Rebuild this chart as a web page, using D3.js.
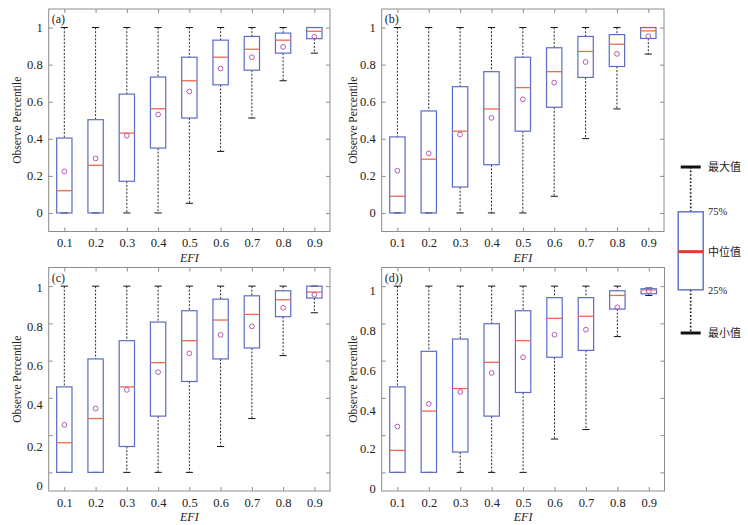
<!DOCTYPE html>
<html>
<head>
<meta charset="utf-8">
<script src="https://cdn.jsdelivr.net/npm/d3@7"></script>
<style>
  body { margin: 0; background: #fff; }
  svg text { font-family: "Liberation Serif", "Times New Roman", Times, "DejaVu Serif", serif; }
</style>
</head>
<body>
<svg id="chart"></svg>
<script>
// EFI bins on the x axis
const efi = ['0.1', '0.2', '0.3', '0.4', '0.5', '0.6', '0.7', '0.8', '0.9'];
const yTicks = [0, 0.2, 0.4, 0.6, 0.8, 1];
const panelLabels = ['(a)', '(b)', '(c)', '(d))'];

// each row: [min, q1, median, q3, max, mean]
const boxA = [
  [0, 0, 0.12, 0.404, 1, 0.224],
  [0, 0, 0.257, 0.503, 1, 0.294],
  [0, 0.171, 0.431, 0.641, 1, 0.417],
  [0, 0.35, 0.562, 0.733, 1, 0.531],
  [0.052, 0.512, 0.713, 0.84, 1, 0.655],
  [0.332, 0.691, 0.84, 0.932, 1, 0.779],
  [0.512, 0.77, 0.883, 0.952, 1, 0.84],
  [0.713, 0.862, 0.932, 0.97, 1, 0.896],
  [0.862, 0.94, 0.98, 1, 1, 0.95]
];
const boxB = [
  [0, 0, 0.09, 0.41, 1, 0.228],
  [0, 0, 0.29, 0.55, 1, 0.321],
  [0, 0.14, 0.441, 0.681, 1, 0.423],
  [0, 0.26, 0.561, 0.762, 1, 0.513],
  [0, 0.441, 0.676, 0.84, 1, 0.613],
  [0.09, 0.57, 0.762, 0.891, 1, 0.703],
  [0.401, 0.731, 0.871, 0.952, 1, 0.814],
  [0.561, 0.79, 0.91, 0.962, 1, 0.858],
  [0.857, 0.941, 0.982, 1, 1, 0.953]
];
const boxC = [
  [0, 0, 0.159, 0.459, 1, 0.255],
  [0, 0, 0.289, 0.609, 1, 0.343],
  [0, 0.139, 0.459, 0.707, 1, 0.443],
  [0, 0.302, 0.589, 0.807, 1, 0.538],
  [0, 0.488, 0.707, 0.868, 1, 0.639],
  [0.139, 0.609, 0.818, 0.93, 1, 0.738],
  [0.289, 0.668, 0.848, 0.948, 1, 0.784],
  [0.627, 0.836, 0.927, 0.975, 1, 0.884],
  [0.857, 0.936, 0.968, 1, 1, 0.954]
];
const boxD = [
  [0, 0, 0.118, 0.459, 1, 0.246],
  [0, 0, 0.329, 0.65, 1, 0.368],
  [0, 0.109, 0.45, 0.716, 1, 0.432],
  [0, 0.302, 0.591, 0.798, 1, 0.534],
  [0, 0.429, 0.707, 0.868, 1, 0.618],
  [0.179, 0.618, 0.827, 0.938, 1, 0.739],
  [0.23, 0.655, 0.838, 0.938, 1, 0.766],
  [0.729, 0.877, 0.95, 0.975, 1, 0.886],
  [0.95, 0.959, 0.98, 0.986, 0.99, 0.973]
];

// legend: schematic box, labels from top to bottom
const legendLabels = ['最大值', '75%', '中位值', '25%', '最小值'];
const legendLevels = [1, 0.73, 0.49, 0.26, 0];

const width = 748, height = 525;
const svg = d3.select('#chart').attr('width', width).attr('height', height);

const serif = '"Liberation Serif", "Times New Roman", Times, "DejaVu Serif", serif';
const boxColor = '#5b6cc6', medColor = '#ee6a4e', meanColor = '#b45bb4', frameColor = '#8c8c8c';

// label pixel shifts seen in the lower panels (tick labels sit a little low)
const panels = [
  { stats: boxA, x0: 48.7, x1: 330, y0: 9, y1: 231.5, titleX: 21, shift: [0, 0, 0, 0, 0, 0] },
  { stats: boxB, x0: 381.7, x1: 664, y0: 9, y1: 231.5, titleX: 356.5, shift: [0, 0, 0, 0, 0, 0] },
  { stats: boxC, x0: 48.7, x1: 330, y0: 267.5, y1: 491, titleX: 21, shift: [12.7, 11, 6.7, 4.7, 3, 1] },
  { stats: boxD, x0: 381.7, x1: 664.5, y0: 267.5, y1: 491, titleX: 356.5, shift: [16, 13.3, 12.4, 9.7, 7, 4.3] }
];

panels.forEach((p, pi) => {
  const x = d3.scalePoint().domain(efi).range([p.x0, p.x1]).padding(0.5);
  const y = d3.scaleLinear().domain([-0.1, 1.1]).range([p.y1, p.y0]);
  const step = x.step();
  const boxW = step * 0.49, capW = step * 0.23;

  const g = svg.append('g');

  // axes with inward ticks on all four sides
  const bottom = g.append('g').attr('transform', `translate(0,${p.y1})`)
    .call(d3.axisBottom(x).tickSize(-4).tickPadding(7));
  const top = g.append('g').attr('transform', `translate(0,${p.y0})`)
    .call(d3.axisTop(x).tickSize(-4).tickFormat(''));
  const left = g.append('g').attr('transform', `translate(${p.x0},0)`)
    .call(d3.axisLeft(y).tickValues(yTicks).tickSize(-4).tickPadding(6).tickFormat(d => String(d)));
  const right = g.append('g').attr('transform', `translate(${p.x1},0)`)
    .call(d3.axisRight(y).tickValues(yTicks).tickSize(-4).tickFormat(''));
  [bottom, top, left, right].forEach(a => {
    a.attr('font-family', serif).attr('font-size', 12.5);
    a.select('.domain').remove();
    a.selectAll('line').attr('stroke', frameColor);
    a.selectAll('text').attr('fill', '#222');
  });
  left.selectAll('text').attr('y', (d, i) => p.shift[i]);

  g.append('rect')
    .attr('x', p.x0).attr('y', p.y0)
    .attr('width', p.x1 - p.x0).attr('height', p.y1 - p.y0)
    .attr('fill', 'none').attr('stroke', frameColor).attr('stroke-width', 1);

  const boxes = g.selectAll('.box').data(p.stats).enter().append('g').attr('class', 'box')
    .attr('transform', (d, i) => `translate(${x(efi[i])},0)`);

  // whiskers
  boxes.append('line').attr('y1', d => y(d[4])).attr('y2', d => y(d[3]))
    .attr('stroke', '#111').attr('stroke-dasharray', '2,1.6').attr('stroke-width', 0.9);
  boxes.append('line').attr('y1', d => y(d[1])).attr('y2', d => y(d[0]))
    .attr('stroke', '#111').attr('stroke-dasharray', '2,1.6').attr('stroke-width', 0.9);
  boxes.append('line').attr('x1', -capW / 2).attr('x2', capW / 2)
    .attr('y1', d => y(d[4])).attr('y2', d => y(d[4])).attr('stroke', '#111');
  boxes.append('line').attr('x1', -capW / 2).attr('x2', capW / 2)
    .attr('y1', d => y(d[0])).attr('y2', d => y(d[0])).attr('stroke', '#111');

  boxes.append('rect')
    .attr('x', -boxW / 2).attr('width', boxW)
    .attr('y', d => y(d[3])).attr('height', d => y(d[1]) - y(d[3]))
    .attr('fill', 'none').attr('stroke', boxColor).attr('stroke-width', 1.2);
  boxes.append('line').attr('x1', -boxW / 2).attr('x2', boxW / 2)
    .attr('y1', d => y(d[2])).attr('y2', d => y(d[2]))
    .attr('stroke', medColor).attr('stroke-width', 1.3);
  boxes.append('circle').attr('cy', d => y(d[5])).attr('r', 2.4)
    .attr('fill', 'none').attr('stroke', meanColor).attr('stroke-width', 1);

  g.append('text')
    .attr('x', p.x0 + 3).attr('y', p.y0 + 14)
    .attr('fill', '#222').attr('font-family', serif).attr('font-size', 12)
    .text(panelLabels[pi]);

  g.append('text')
    .attr('x', (p.x0 + p.x1) / 2).attr('y', p.y1 + 30)
    .attr('text-anchor', 'middle').attr('fill', '#222')
    .attr('font-family', serif).attr('font-size', 12).attr('font-style', 'italic')
    .text('EFI');

  g.append('text')
    .attr('transform', `translate(${p.titleX},${(p.y0 + p.y1) / 2}) rotate(-90)`)
    .attr('text-anchor', 'middle').attr('fill', '#222')
    .attr('font-family', serif).attr('font-size', 11.5)
    .text('Observe Percentile');
});

// legend
const ly = d3.scaleLinear().domain([0, 1]).range([333, 167]);
const lx = 690.7, lBoxW = 25, lCapW = 20;
const leg = svg.append('g');
leg.append('line').attr('x1', lx).attr('x2', lx).attr('y1', ly(1)).attr('y2', ly(0.73))
  .attr('stroke', '#111').attr('stroke-width', 1.6).attr('stroke-dasharray', '1.6,2');
leg.append('line').attr('x1', lx).attr('x2', lx).attr('y1', ly(0.26)).attr('y2', ly(0))
  .attr('stroke', '#111').attr('stroke-width', 1.6).attr('stroke-dasharray', '1.6,2');
[1, 0].forEach(v => {
  leg.append('line').attr('x1', lx - lCapW / 2).attr('x2', lx + lCapW / 2)
    .attr('y1', ly(v)).attr('y2', ly(v)).attr('stroke', '#111').attr('stroke-width', 3);
});
leg.append('rect').attr('x', lx - lBoxW / 2).attr('width', lBoxW)
  .attr('y', ly(0.73)).attr('height', ly(0.26) - ly(0.73))
  .attr('fill', 'none').attr('stroke', boxColor).attr('stroke-width', 1.4);
leg.append('line').attr('x1', lx - lBoxW / 2).attr('x2', lx + lBoxW / 2)
  .attr('y1', ly(0.49)).attr('y2', ly(0.49)).attr('stroke', '#e03c32').attr('stroke-width', 3);
leg.selectAll('.ltxt').data(legendLabels).enter().append('text')
  .attr('x', 708).attr('y', (d, i) => ly(legendLevels[i])).attr('dy', '0.35em')
  .attr('fill', '#222')
  .attr('font-size', d => d.includes('%') ? 10.5 : 11)
  .style('font-family', d => d.includes('%') ? serif : '"Noto Sans CJK SC", sans-serif')
  .text(d => d);
</script>
</body>
</html>
